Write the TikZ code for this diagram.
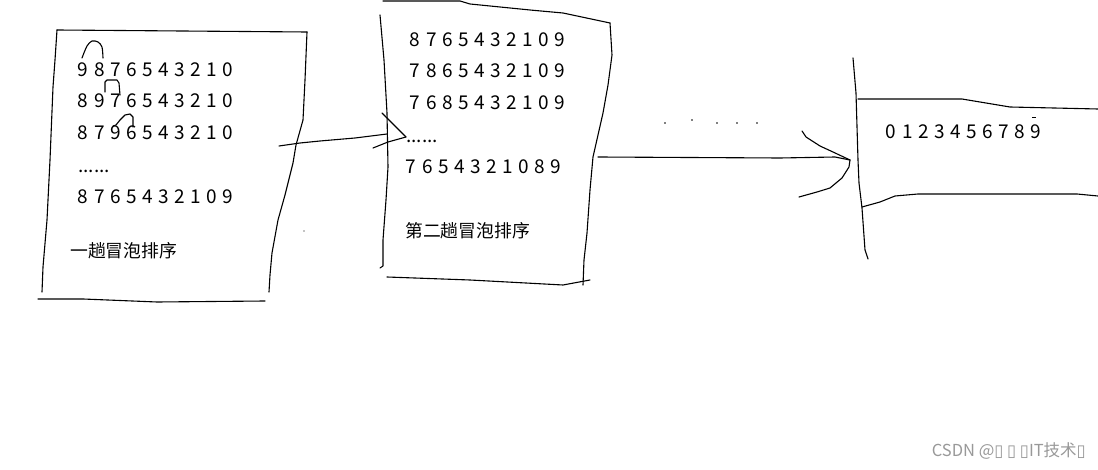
\documentclass[tikz,border=0pt]{standalone}
\usepackage{fontspec}
\setmainfont{Noto Sans CJK SC}
\newfontfamily\boxfont{DejaVu Sans}
\newcommand\dg[1]{\makebox[16.1pt]{#1}}
\def\drow#1{\ifx#1\relax\else\dg{#1}\expandafter\drow\fi}
\begin{document}
\begin{tikzpicture}[x=1pt,y=-1pt,
  pen/.style={line width=1.1pt, line join=round, line cap=round, black},
  row/.style={anchor=base west, inner sep=0pt, font=\fontsize{19}{19}\selectfont},
  cjk/.style={anchor=base west, inner sep=0pt, font=\fontsize{17.8}{18}\selectfont}]
\useasboundingbox (0,0) rectangle (1098,470);
\fill[white] (0,0) rectangle (1098,470);

% ---------- box 1 ----------
\draw[pen] (57,30) -- (307,32);
\draw[pen] (57,30) -- (55,60) -- (53,87) -- (50,160) -- (47,220) -- (43,267) -- (42,292);
\draw[pen] (307,32) -- (305,80) -- (303,120) -- (296,145) -- (293,163) -- (285,195) -- (278,220) -- (272,253) -- (270,275) -- (269,292);
\draw[pen] (38,299) -- (83,299) -- (157,302) -- (265,301);
\fill (304,231) circle (0.7);

\node[row] (r11) at (75,77) {\drow9876543210\relax};
\node[row] (r12) at (75,108) {\drow8976543210\relax};
\node[row] (r13) at (75,140) {\drow8796543210\relax};
\node[row] (r14) at (78,173) {......};
\node[row] (r15) at (75,204) {\drow8765432109\relax};
\node[cjk] (t1) at (70,258) {一趟冒泡排序};

% swap arcs
\draw[pen] plot[smooth] coordinates {(82,58) (87,46) (92,41) (98,42) (102,47) (103,58)};
\draw[pen] (105,92) -- (105,82) -- (107,80) -- (117,80) -- (119,83) -- (120,95);
\draw[pen] (113,126) -- (116,125) -- (120,120) -- (125,115) -- (130,114) -- (133,117) -- (133,127);

% ---------- arrow 1 ----------
\draw[pen] (279,146) -- (300,143) -- (320,141) -- (355,138) -- (387,134);
\draw[pen] (382,113) -- (406,137);
\draw[pen] (373,148) -- (388,142) -- (406,137);

% ---------- box 2 ----------
\draw[pen] (383,1) -- (460,1) -- (470,4) -- (530,10) -- (563,13) -- (610,23);
\draw[pen] (380,15) -- (384,60) -- (387,113) -- (388,167) -- (386,200) -- (383,240) -- (383,266) -- (380,268);
\draw[pen] (610,23) -- (612,55) -- (608,85) -- (603,113) -- (593,157) -- (590,190) -- (587,233) -- (584,260) -- (583,285);
\draw[pen] (387,277) -- (470,280) -- (563,285) -- (590,280);

\node[row] (r21) at (407,47) {\drow8765432109\relax};
\node[row] (r22) at (407,78) {\drow7865432109\relax};
\node[row] (r23) at (407,110) {\drow7685432109\relax};
\node[row] (r24) at (406,143) {......};
\node[row] (r25) at (403,174) {\drow7654321089\relax};
\node[cjk] (t2) at (405,238) {第二趟冒泡排序};

% dots
\foreach \px/\py in {665/123, 692/120, 717/123, 737/123, 757/123}
  \fill (\px,\py) circle (0.8);

% ---------- arrow 2 ----------
\draw[pen] (598,157) -- (780,158) -- (835,157) -- (850,160);
\draw[pen] (802,131) -- (806,137) -- (820,146) -- (833,152) -- (850,160);
\draw[pen] (850,160) -- (849,167) -- (842,178) -- (830,188) -- (817,192) -- (799,197);

% ---------- result shape ----------
\draw[pen] (853,58) -- (856,93) -- (858,160) -- (859,183) -- (862,208) -- (865,250) -- (868,259);
\draw[pen] (858,99) -- (962,99) -- (1010,107) -- (1098,109);
\draw[pen] (862,207) -- (880,202) -- (895,196) -- (918,194) -- (1077,194) -- (1098,196);
\node[row] (r31) at (883,139) {\drow0123456789\relax};
\draw[line width=0.8pt] (1032,117) -- (1036,117);

% ---------- watermark ----------
\node[anchor=base east, inner sep=0pt, text=black!40, font=\fontsize{16.5}{16.5}\selectfont] (wm) at (1086,456)
  {CSDN @{\boxfont ▯} {\boxfont ▯} {\boxfont ▯}IT技术{\boxfont ▯}};
\end{tikzpicture}
\end{document}
